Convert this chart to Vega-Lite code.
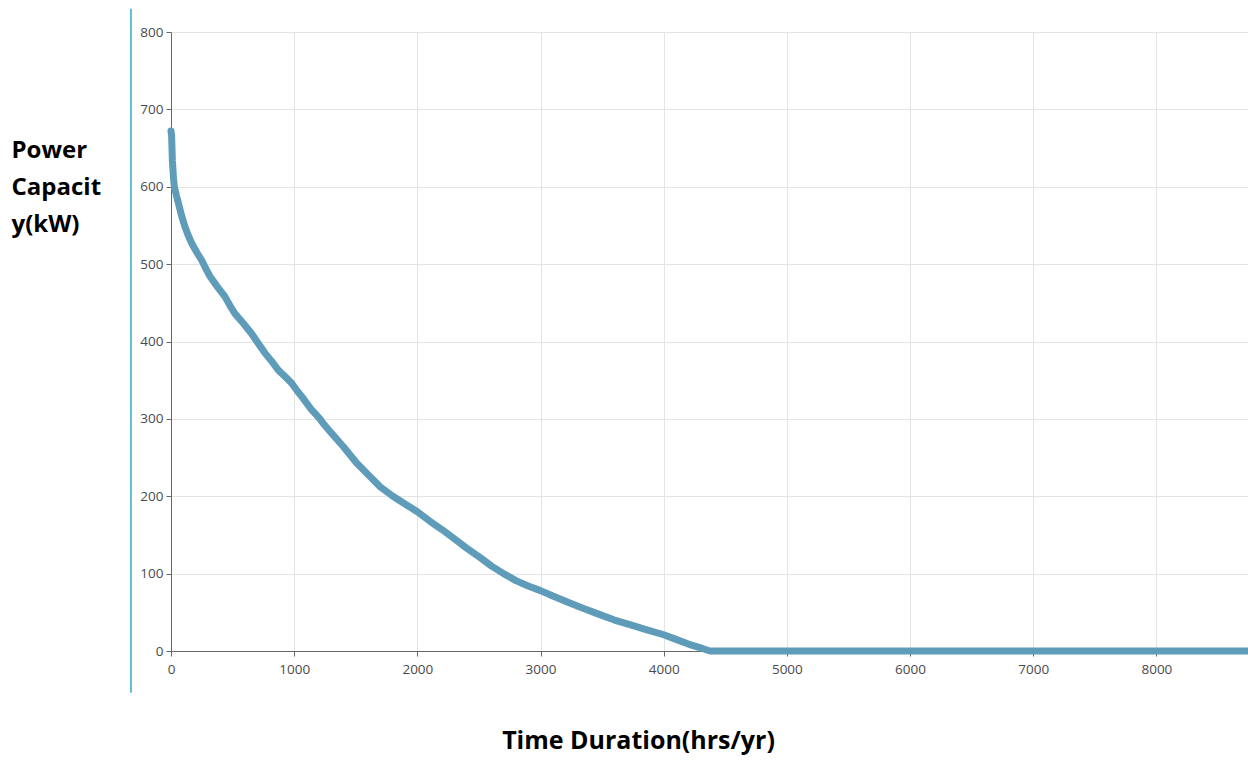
{
  "$schema": "https://vega.github.io/schema/vega-lite/v6.json",
  "width": 1079,
  "height": 619,
  "autosize": {"type": "none"},
  "padding": {"left": 171, "top": 32, "right": 0, "bottom": 118},
  "background": "white",
  "config": {
    "view": {"stroke": null},
    "axis": {
      "labelFont": "Open Sans",
      "labelFontSize": 13.5,
      "labelColor": "#4a4a4a",
      "labelFlush": false,
      "gridColor": "#e4e4e4",
      "gridWidth": 1,
      "domainColor": "#666666",
      "tickColor": "#666666",
      "tickSize": 5,
      "titleFont": "Open Sans",
      "titleFontWeight": "bold",
      "titleFontSize": 24,
      "titleColor": "#000000"
    }
  },
  "layer": [
    {
      "data": {"values": [
        {"hours": 0, "kw": 672},
        {"hours": 5, "kw": 666},
        {"hours": 11, "kw": 634},
        {"hours": 20, "kw": 612},
        {"hours": 27, "kw": 600},
        {"hours": 45, "kw": 588},
        {"hours": 60, "kw": 579},
        {"hours": 85, "kw": 563},
        {"hours": 114, "kw": 548},
        {"hours": 140, "kw": 537},
        {"hours": 168, "kw": 527},
        {"hours": 210, "kw": 515},
        {"hours": 249, "kw": 505},
        {"hours": 290, "kw": 492},
        {"hours": 317, "kw": 484},
        {"hours": 380, "kw": 470},
        {"hours": 438, "kw": 458},
        {"hours": 480, "kw": 446},
        {"hours": 519, "kw": 436},
        {"hours": 590, "kw": 423},
        {"hours": 655, "kw": 410},
        {"hours": 710, "kw": 397},
        {"hours": 763, "kw": 385},
        {"hours": 820, "kw": 374},
        {"hours": 871, "kw": 363},
        {"hours": 930, "kw": 354},
        {"hours": 980, "kw": 346},
        {"hours": 1030, "kw": 335},
        {"hours": 1061, "kw": 329},
        {"hours": 1130, "kw": 314},
        {"hours": 1209, "kw": 300},
        {"hours": 1236, "kw": 294},
        {"hours": 1300, "kw": 282},
        {"hours": 1400, "kw": 264},
        {"hours": 1507, "kw": 243},
        {"hours": 1600, "kw": 228},
        {"hours": 1700, "kw": 212},
        {"hours": 1802, "kw": 200},
        {"hours": 1900, "kw": 190},
        {"hours": 2000, "kw": 180},
        {"hours": 2100, "kw": 168},
        {"hours": 2200, "kw": 157},
        {"hours": 2300, "kw": 145},
        {"hours": 2400, "kw": 133},
        {"hours": 2508, "kw": 121},
        {"hours": 2600, "kw": 110},
        {"hours": 2700, "kw": 100},
        {"hours": 2800, "kw": 91},
        {"hours": 2900, "kw": 84},
        {"hours": 3000, "kw": 78},
        {"hours": 3100, "kw": 71},
        {"hours": 3238, "kw": 62},
        {"hours": 3350, "kw": 55},
        {"hours": 3482, "kw": 47},
        {"hours": 3600, "kw": 40},
        {"hours": 3726, "kw": 34},
        {"hours": 3850, "kw": 28},
        {"hours": 4000, "kw": 21},
        {"hours": 4100, "kw": 15},
        {"hours": 4200, "kw": 9},
        {"hours": 4300, "kw": 4},
        {"hours": 4375, "kw": 0},
        {"hours": 8760, "kw": 0}
      ]},
      "mark": {"type": "line", "color": "#5f9cba", "strokeWidth": 7, "strokeJoin": "round", "strokeCap": "round"},
      "encoding": {
        "x": {
          "field": "hours", "type": "quantitative",
          "scale": {"domain": [0, 8760], "nice": false, "zero": false},
          "axis": {
            "values": [0, 1000, 2000, 3000, 4000, 5000, 6000, 7000, 8000],
            "format": "d",
            "labelPadding": 6,
            "title": "Time Duration(hrs/yr)",
            "titleFontSize": 25,
            "titleX": 467,
            "titleY": 97,
            "titleAlign": "center",
            "titleBaseline": "alphabetic",
            "titleAnchor": null
          }
        },
        "y": {
          "field": "kw", "type": "quantitative",
          "scale": {"domain": [0, 800], "nice": false},
          "axis": {
            "values": [0, 100, 200, 300, 400, 500, 600, 700, 800],
            "format": "d",
            "labelPadding": 3,
            "title": ["Power", "Capacit", "y(kW)"],
            "titleAngle": 0,
            "titleAlign": "left",
            "titleBaseline": "alphabetic",
            "titleLineHeight": 37,
            "titleX": -160,
            "titleY": 125,
            "titleAnchor": null
          }
        }
      }
    },
    {
      "data": {"values": [{"hours": -325, "kw": -54, "kw2": 830}]},
      "mark": {"type": "rule", "color": "#62bfd3", "strokeWidth": 2},
      "encoding": {
        "x": {"field": "hours", "type": "quantitative"},
        "y": {"field": "kw", "type": "quantitative"},
        "y2": {"field": "kw2"}
      }
    }
  ]
}
